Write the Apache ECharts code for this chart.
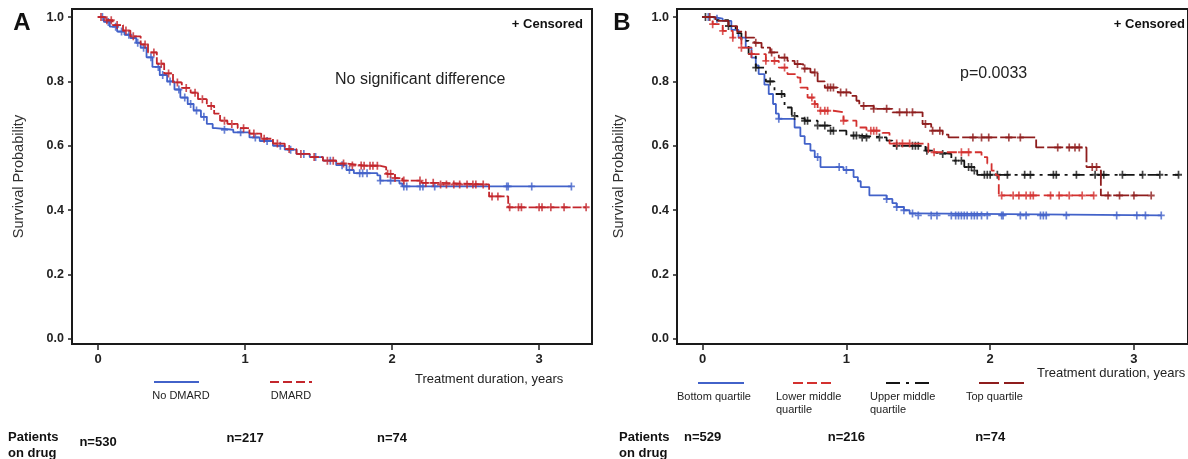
<!DOCTYPE html>
<html>
<head>
<meta charset="utf-8">
<script src="https://cdn.jsdelivr.net/npm/echarts@6/dist/echarts.min.js"></script>
<style>
  html, body { margin: 0; padding: 0; background: #fff; }
  #chart { width: 1188px; height: 459px; }
</style>
</head>
<body>
<div id="chart"></div>
<script>
// ---- Panel A: No DMARD vs DMARD ----
const noDmardT = [0, 0.04, 0.08, 0.13, 0.18, 0.22, 0.26, 0.29, 0.33, 0.37, 0.42, 0.47, 0.52, 0.56, 0.61, 0.65, 0.70, 0.74, 0.78, 0.80, 0.92, 1.03, 1.10, 1.19, 1.27, 1.35, 1.44, 1.53, 1.62, 1.69, 1.74, 1.90, 1.92, 2.05, 2.07, 3.22]
const noDmardS = [1.0, 0.985, 0.97, 0.955, 0.945, 0.935, 0.92, 0.905, 0.875, 0.845, 0.82, 0.80, 0.775, 0.75, 0.73, 0.71, 0.69, 0.668, 0.655, 0.65, 0.642, 0.626, 0.615, 0.60, 0.588, 0.575, 0.565, 0.554, 0.54, 0.525, 0.515, 0.508, 0.492, 0.483, 0.474, 0.474]
const noDmardCens = [0.03, 0.07, 0.12, 0.16, 0.21, 0.27, 0.31, 0.36, 0.41, 0.44, 0.49, 0.55, 0.59, 0.63, 0.67, 0.72, 0.86, 0.97, 1.07, 1.15, 1.24, 1.31, 1.40, 1.48, 1.58, 1.66, 1.71, 1.78, 1.80, 1.83, 1.92, 1.99, 2.08, 2.10, 2.19, 2.21, 2.29, 2.78, 2.79, 2.95, 3.22]

const dmardT = [0, 0.05, 0.10, 0.17, 0.22, 0.29, 0.34, 0.40, 0.45, 0.51, 0.57, 0.63, 0.68, 0.74, 0.79, 0.83, 0.88, 0.95, 1.03, 1.11, 1.19, 1.27, 1.35, 1.44, 1.53, 1.62, 1.69, 1.80, 1.92, 1.96, 2.02, 2.07, 2.20, 2.33, 2.66, 2.79, 3.32]
const dmardS = [1.0, 0.99, 0.975, 0.958, 0.94, 0.915, 0.89, 0.855, 0.825, 0.797, 0.78, 0.765, 0.745, 0.724, 0.70, 0.678, 0.668, 0.655, 0.638, 0.622, 0.607, 0.59, 0.575, 0.565, 0.554, 0.545, 0.539, 0.538, 0.534, 0.513, 0.50, 0.492, 0.485, 0.48, 0.443, 0.409, 0.409]
const dmardCens = [0.02, 0.06, 0.09, 0.13, 0.19, 0.24, 0.32, 0.38, 0.43, 0.48, 0.54, 0.60, 0.66, 0.71, 0.77, 0.86, 0.91, 0.99, 1.06, 1.13, 1.22, 1.30, 1.38, 1.47, 1.56, 1.60, 1.67, 1.73, 1.79, 1.81, 1.85, 1.87, 1.90, 1.97, 1.99, 2.02, 2.08, 2.19, 2.23, 2.28, 2.33, 2.37, 2.42, 2.46, 2.51, 2.55, 2.57, 2.62, 2.68, 2.72, 2.80, 2.86, 2.88, 3.0, 3.02, 3.08, 3.17, 3.32]

// ---- Panel B: quartiles ----
const bottomT = [0, 0.08, 0.14, 0.20, 0.25, 0.30, 0.34, 0.37, 0.39, 0.43, 0.46, 0.49, 0.51, 0.53, 0.64, 0.68, 0.71, 0.75, 0.78, 0.82, 0.98, 1.05, 1.08, 1.10, 1.16, 1.28, 1.32, 1.35, 1.40, 1.44, 1.48, 3.19]
const bottomS = [1.0, 0.995, 0.988, 0.96, 0.936, 0.905, 0.874, 0.85, 0.823, 0.79, 0.761, 0.73, 0.70, 0.684, 0.657, 0.63, 0.606, 0.585, 0.565, 0.534, 0.525, 0.503, 0.49, 0.472, 0.446, 0.435, 0.422, 0.41, 0.40, 0.39, 0.384, 0.384]
const bottomCens = [0.04, 0.10, 0.53, 0.80, 0.95, 1.0, 1.28, 1.35, 1.40, 1.46, 1.50, 1.59, 1.63, 1.73, 1.76, 1.78, 1.80, 1.82, 1.84, 1.87, 1.89, 1.91, 1.94, 1.98, 2.08, 2.09, 2.21, 2.25, 2.35, 2.37, 2.39, 2.53, 2.88, 3.02, 3.08, 3.19]

const upperT = [0, 0.08, 0.18, 0.23, 0.27, 0.32, 0.37, 0.44, 0.50, 0.57, 0.62, 0.66, 0.71, 0.80, 0.89, 1.0, 1.09, 1.28, 1.32, 1.55, 1.62, 1.67, 1.73, 1.82, 1.89, 1.91, 3.31]
const upperS = [1.0, 0.99, 0.972, 0.95, 0.926, 0.885, 0.843, 0.80, 0.761, 0.719, 0.693, 0.685, 0.678, 0.663, 0.647, 0.632, 0.626, 0.616, 0.60, 0.585, 0.578, 0.575, 0.554, 0.534, 0.523, 0.51, 0.51]
const upperCens = [0.02, 0.18, 0.37, 0.47, 0.55, 0.64, 0.71, 0.73, 0.80, 0.85, 0.89, 0.91, 1.05, 1.07, 1.11, 1.14, 1.23, 1.35, 1.46, 1.48, 1.50, 1.56, 1.67, 1.76, 1.80, 1.85, 1.87, 1.89, 1.96, 1.98, 2.0, 2.05, 2.12, 2.24, 2.28, 2.44, 2.46, 2.60, 2.73, 2.77, 2.79, 2.92, 3.06, 3.18, 3.31]

const lowerT = [0, 0.07, 0.14, 0.21, 0.27, 0.34, 0.44, 0.53, 0.59, 0.66, 0.68, 0.73, 0.78, 0.80, 0.91, 0.98, 1.07, 1.14, 1.25, 1.30, 1.57, 1.94, 1.98, 2.01, 2.04, 2.06, 2.72]
const lowerS = [1.0, 0.978, 0.957, 0.936, 0.905, 0.885, 0.864, 0.843, 0.823, 0.812, 0.781, 0.75, 0.73, 0.709, 0.704, 0.678, 0.657, 0.647, 0.64, 0.607, 0.58, 0.565, 0.545, 0.523, 0.508, 0.446, 0.446]
const lowerCens = [0.07, 0.14, 0.21, 0.27, 0.34, 0.44, 0.50, 0.57, 0.76, 0.78, 0.82, 0.85, 0.87, 0.98, 1.17, 1.19, 1.21, 1.35, 1.39, 1.44, 1.61, 1.80, 1.85, 2.08, 2.16, 2.20, 2.25, 2.28, 2.30, 2.42, 2.48, 2.55, 2.64, 2.72]

const topT = [0, 0.09, 0.18, 0.24, 0.30, 0.36, 0.41, 0.47, 0.53, 0.59, 0.64, 0.70, 0.75, 0.80, 0.85, 0.94, 1.03, 1.07, 1.09, 1.19, 1.32, 1.53, 1.59, 1.67, 1.71, 2.32, 2.67, 2.77, 3.12]
const topS = [1.0, 0.988, 0.972, 0.955, 0.936, 0.92, 0.905, 0.89, 0.874, 0.864, 0.854, 0.84, 0.828, 0.80, 0.781, 0.766, 0.755, 0.74, 0.724, 0.715, 0.704, 0.668, 0.647, 0.635, 0.626, 0.595, 0.534, 0.446, 0.446]
const topCens = [0.05, 0.37, 0.48, 0.57, 0.66, 0.71, 0.78, 0.87, 0.89, 0.91, 0.96, 1.0, 1.12, 1.19, 1.28, 1.37, 1.42, 1.46, 1.55, 1.60, 1.65, 1.88, 1.94, 1.99, 2.13, 2.21, 2.47, 2.55, 2.59, 2.62, 2.71, 2.74, 2.82, 2.90, 3.0, 3.12]

const yTicks = [0, 0.2, 0.4, 0.6, 0.8, 1.0]
const xTicks = [0, 1, 2, 3]
const nTimes = [0, 1, 2]
const nA = ['n=530', 'n=217', 'n=74']
const nB = ['n=529', 'n=216', 'n=74']

const FONT = '"Liberation Sans", Arial, sans-serif'
const PLUS = 'path://M3.8,0h2.4v3.8h3.8v2.4h-3.8v3.8h-2.4v-3.8h-3.8v-2.4h3.8z'

// survival value at time t (KM step)
function survAt(ts, ss, t) {
  let v = ss[0]
  for (let i = 0; i < ts.length; i++) if (ts[i] <= t) v = ss[i]
  return v
}

function kmSeries(grid, name, ts, ss, cens, color, dash, z) {
  return [{
    name: name,
    type: 'line',
    step: 'end',
    xAxisIndex: grid, yAxisIndex: grid,
    data: ts.map((t, i) => [t, ss[i]]),
    showSymbol: false,
    lineStyle: { color: color, width: 1.8, type: dash },
    z: z,
    silent: true
  }, {
    name: name,
    type: 'scatter',
    xAxisIndex: grid, yAxisIndex: grid,
    data: cens.map(t => [t, survAt(ts, ss, t)]),
    symbol: PLUS,
    symbolSize: [7, 8],
    itemStyle: { color: color },
    z: z + 1,
    silent: true
  }]
}

function yAxis(grid, gap) {
  return {
    type: 'value', gridIndex: grid, min: -0.0155, max: 1.025,
    name: 'Survival Probability', nameLocation: 'middle', nameGap: gap,
    nameTextStyle: { fontFamily: FONT, fontSize: 14.5, color: '#333' },
    axisLine: { show: false, onZero: false },
    axisTick: { show: true, length: 4, customValues: yTicks, lineStyle: { color: '#222', width: 1.5 } },
    axisLabel: { customValues: yTicks, margin: 8, formatter: v => v.toFixed(1),
      fontFamily: FONT, fontSize: 12.5, fontWeight: 'bold', color: '#222' },
    splitLine: { show: false }
  }
}

function xAxis(grid, min, max) {
  return {
    type: 'value', gridIndex: grid, min: min, max: max,
    axisLine: { show: false, onZero: false },
    axisTick: { show: true, length: 6, customValues: xTicks, lineStyle: { color: '#222', width: 1.5 } },
    axisLabel: { customValues: xTicks, margin: 9, fontFamily: FONT, fontSize: 13, fontWeight: 'bold', color: '#222' },
    splitLine: { show: false }
  }
}

function txt(x, y, text, size, weight, align, color, lh) {
  return { type: 'text', x: x, y: y, silent: true,
    style: { text: text, font: (weight || 'normal') + ' ' + size + 'px ' + FONT,
      fill: color || '#222', align: align || 'left', verticalAlign: 'middle', lineHeight: lh || 13 } }
}
function seg(x1, x2, y, color, dash) {
  return { type: 'line', silent: true, shape: { x1: x1, y1: y, x2: x2, y2: y },
    style: { stroke: color, lineWidth: 2, lineDash: dash || null } }
}

const BLUE = '#4262c9', RED = '#c3262c', LRED = '#d3312f', BLACK = '#151515', BROWN = '#8e1d1d'

const chart = echarts.init(document.getElementById('chart'))
const option = {
  animation: false,
  backgroundColor: '#fff',
  grid: [
    { left: 72, top: 9, width: 520, height: 335, show: true, borderColor: '#1a1a1a', borderWidth: 2 },
    { left: 677, top: 9, width: 520, height: 335, show: true, borderColor: '#1a1a1a', borderWidth: 2 }
  ],
  xAxis: [xAxis(0, -0.177, 3.36), xAxis(1, -0.178, 3.376)],
  yAxis: [yAxis(0, 46), yAxis(1, 51)],
  series: [].concat(
    kmSeries(0, 'No DMARD', noDmardT, noDmardS, noDmardCens, BLUE, 'solid', 2),
    kmSeries(0, 'DMARD', dmardT, dmardS, dmardCens, RED, [9, 2], 4),
    kmSeries(1, 'Bottom quartile', bottomT, bottomS, bottomCens, BLUE, 'solid', 2),
    kmSeries(1, 'Upper middle quartile', upperT, upperS, upperCens, BLACK, [12, 5, 3, 5], 4),
    kmSeries(1, 'Lower middle quartile', lowerT, lowerS, lowerCens, LRED, [10, 4], 6),
    kmSeries(1, 'Top quartile', topT, topS, topCens, BROWN, [16, 3], 8)
  ),
  graphic: [
    txt(22, 23, 'A', 24, 'bold', 'center', '#111'),
    txt(622, 23, 'B', 24, 'bold', 'center', '#111'),
    txt(583, 24, '+ Censored', 13, 'bold', 'right', '#111'),
    txt(1185, 24, '+ Censored', 13, 'bold', 'right', '#111'),
    txt(335, 80, 'No significant difference', 16, 'normal', 'left', '#222'),
    txt(960, 74, 'p=0.0033', 16, 'normal', 'left', '#222'),
    txt(415, 379, 'Treatment duration, years', 13, 'normal', 'left', '#222'),
    txt(1037, 373, 'Treatment duration, years', 13, 'normal', 'left', '#222'),
    // legend A
    seg(154, 199, 382, BLUE), txt(181, 396, 'No DMARD', 11, 'normal', 'center'),
    seg(270, 312, 382, RED, [9, 4]), txt(291, 396, 'DMARD', 11, 'normal', 'center'),
    // legend B
    seg(698, 744, 383, BLUE), txt(677, 397, 'Bottom quartile', 11),
    seg(793, 834, 383, LRED, [10, 4]), txt(776, 403, 'Lower middle\nquartile', 11),
    seg(886, 930, 383, BLACK, [14, 6, 3, 6]), txt(870, 403, 'Upper middle\nquartile', 11),
    seg(979, 1024, 383, BROWN, [20, 5]), txt(966, 397, 'Top quartile', 11),
    // patients on drug
    txt(8, 445, 'Patients\non drug', 13, 'bold', 'left', '#111', 16),
    txt(619, 445, 'Patients\non drug', 13, 'bold', 'left', '#111', 16)
  ]
}
chart.setOption(option)

// n at risk, placed under the year positions
const extra = []
nTimes.forEach((t, i) => {
  const pa = chart.convertToPixel({ gridIndex: 0 }, [t, 0])
  const pb = chart.convertToPixel({ gridIndex: 1 }, [t, 0])
  extra.push(txt(pa[0], i === 0 ? 442 : 438, nA[i], 13, 'bold', 'center', '#111'))
  extra.push(txt(pb[0], 437, nB[i], 13, 'bold', 'center', '#111'))
})
chart.setOption({ graphic: option.graphic.concat(extra) })
</script>
</body>
</html>
